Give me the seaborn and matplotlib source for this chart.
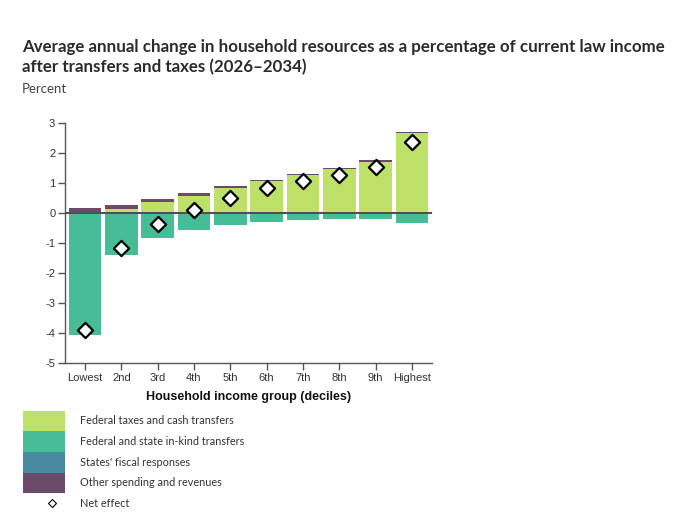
import numpy as np
import pandas as pd
import seaborn as sns
import matplotlib.pyplot as plt
from matplotlib.patches import Rectangle

# data (percent)
groups = ["Lowest", "2nd", "3rd", "4th", "5th", "6th", "7th", "8th", "9th", "Highest"]
fed_taxes_cash = [0.03, 0.14, 0.36, 0.57, 0.83, 1.06, 1.27, 1.45, 1.71, 2.65]
inkind = [-4.08, -1.40, -0.84, -0.56, -0.40, -0.29, -0.23, -0.21, -0.21, -0.32]
states_fiscal = [0.0, 0.0, 0.0, 0.0, 0.0, 0.0, 0.0, 0.0, 0.0, 0.0]
other_spending = [0.15, 0.11, 0.11, 0.09, 0.08, 0.05, 0.04, 0.04, 0.04, 0.04]
net_effect = [-3.90, -1.16, -0.38, 0.09, 0.51, 0.84, 1.07, 1.27, 1.53, 2.35]

labels = ["Federal taxes and cash transfers", "Federal and state in-kind transfers",
          "States' fiscal responses", "Other spending and revenues"]
colors = ["#bde068", "#46bd97", "#4a8aa1", "#6c4a69"]

df = pd.DataFrame({
    "group": groups,
    "lime": fed_taxes_cash,
    "teal": inkind,
    "blue": states_fiscal,
    "purple": other_spending,
    "net": net_effect,
})
# cumulative tops for the positive stack
df["top_purple"] = df["lime"] + df["blue"] + df["purple"]
df["top_blue"] = df["lime"] + df["blue"]

sns.set_theme(style="white")
plt.rcParams["font.family"] = ["Liberation Sans", "DejaVu Sans"]

fig = plt.figure(figsize=(6.8, 5.2), dpi=100)
ax = fig.add_axes([65 / 680, 1 - 363 / 520, 367 / 680, 240 / 520])

kw = dict(width=0.9, linewidth=0, ax=ax, order=groups, saturation=1)
sns.barplot(data=df, x="group", y="top_purple", color=colors[3], **kw)
sns.barplot(data=df, x="group", y="top_blue", color=colors[2], **kw)
sns.barplot(data=df, x="group", y="lime", color=colors[0], **kw)
sns.barplot(data=df, x="group", y="teal", color=colors[1], **kw)

ax.axhline(0, color="#4d4d4d", lw=1.4, zorder=5)
sns.scatterplot(data=df, x="group", y="net", marker="D", s=60, color="white",
                edgecolor="black", linewidth=1.6, ax=ax, zorder=6, legend=False)

ax.set_xlim(-0.55, 9.55)
ax.set_ylim(-5, 3)
ax.set_yticks(range(-5, 4))
ax.set_yticklabels([str(v) for v in range(-5, 4)])
ax.set_xlabel("Household income group (deciles)", fontsize=9, fontweight="bold",
              color="#111111", labelpad=6)
ax.set_ylabel("")
for s in ["top", "right"]:
    ax.spines[s].set_visible(False)
for s in ["left", "bottom"]:
    ax.spines[s].set_color("#555555")
    ax.spines[s].set_linewidth(1.0)
ax.tick_params(axis="both", which="both", length=5, width=1, color="#555555",
               labelsize=8, labelcolor="#333333", direction="out",
               bottom=True, left=True, pad=2)

# title and unit label
fig.text(22 / 680, 1 - 39 / 520,
         "Average annual change in household resources as a percentage of current law income\n"
         "after transfers and taxes (2026\u20132034)",
         fontsize=12.2, fontweight="bold", color="#2b2b2b", family=["Lato", "DejaVu Sans"],
         va="top", ha="left", linespacing=1.3)
fig.text(22 / 680, 1 - 89 / 520, "Percent", fontsize=9.5, color="#444444",
         family=["Lato", "DejaVu Sans"], va="center", ha="left")

# legend drawn in pixel space
lax = fig.add_axes([0, 0, 1, 1])
lax.set_xlim(0, 680)
lax.set_ylim(520, 0)
lax.axis("off")
row_h = 20.6
y0 = 410.7
for i, (c, lab) in enumerate(zip(colors, labels)):
    lax.add_patch(Rectangle((22.7, y0 + i * row_h), 42.3, row_h, facecolor=c, edgecolor="none"))
    lax.text(80, y0 + (i + 0.5) * row_h, lab, fontsize=7.8, color="#333333",
             family=["Lato", "DejaVu Sans"], va="center", ha="left")
y_net = y0 + 4.5 * row_h
lax.plot([52], [y_net], marker="D", linestyle="none", markerfacecolor="white",
         markeredgecolor="black", markersize=4, markeredgewidth=0.8)
lax.text(80, y_net, "Net effect", fontsize=7.8, color="#333333",
         family=["Lato", "DejaVu Sans"], va="center", ha="left")

fig.savefig("out.png", dpi=100)
